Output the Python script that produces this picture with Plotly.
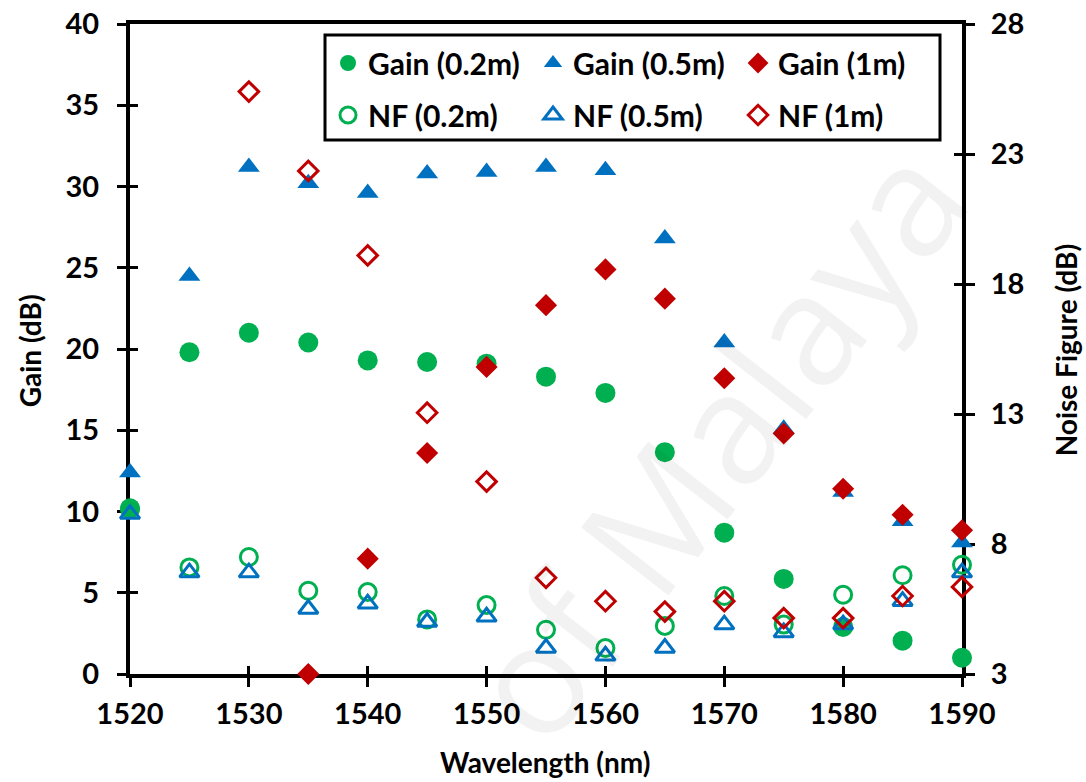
import plotly.graph_objects as go

# Wavelength sweep (nm)
wavelength = [1520, 1525, 1530, 1535, 1540, 1545, 1550, 1555, 1560,
              1565, 1570, 1575, 1580, 1585, 1590]

# Gain (dB) for three fibre lengths
gain_02 = [10.2, 19.8, 21.0, 20.4, 19.3, 19.2, 19.1, 18.3, 17.3,
           13.65, 8.7, 5.85, 2.9, 2.05, 1.0]
gain_05 = [12.4, 24.5, 31.2, 30.2, 29.6, 30.8, 30.9, 31.2, 31.0,
           26.8, 20.4, 15.1, 11.2, 9.4, 8.1]
gain_1 = [None, None, None, 0.0, 7.1, 13.6, 18.9, 22.7, 24.9,
          23.1, 18.2, 14.8, 11.4, 9.8, 8.85]

# Noise figure (dB) for three fibre lengths
nf_02 = [9.35, 7.1, 7.5, 6.2, 6.15, 5.1, 5.65, 4.7, 4.0,
         4.85, 6.0, 4.9, 6.05, 6.8, 7.2]
nf_05 = [9.15, 6.9, 6.9, 5.5, 5.7, 5.0, 5.2, 4.0, 3.7,
         4.0, 4.9, 4.6, 4.9, 5.8, 6.9]
nf_1 = [None, None, 25.4, 22.35, 19.1, 13.05, 10.4, 6.7, 5.8,
        5.4, 5.8, 5.15, 5.15, 6.0, 6.35]

x_ticks = [1520, 1530, 1540, 1550, 1560, 1570, 1580, 1590]
gain_ticks = [0, 5, 10, 15, 20, 25, 30, 35, 40]
nf_ticks = [3, 8, 13, 18, 23, 28]

GREEN = "#00B050"
BLUE = "#0070C0"
RED = "#C00000"
FONT = "Lato"

fig = go.Figure()


def add_series(y, name, color, symbol, filled, axis, legend, size):
    marker = dict(symbol=symbol, size=size, color=color,
                  line=dict(color=color, width=0))
    if not filled:
        marker = dict(symbol=symbol + "-open", size=size - 2, color=color,
                      line=dict(color=color, width=3))
    fig.add_trace(go.Scatter(
        x=wavelength, y=y, name=name, mode="markers", marker=marker,
        yaxis=axis, legend=legend, cliponaxis=False))


add_series(gain_02, "Gain (0.2m)", GREEN, "circle", True, "y", "legend", 20)
add_series(gain_05, "Gain (0.5m)", BLUE, "triangle-up", True, "y", "legend", 19)
add_series(gain_1, "Gain (1m)", RED, "diamond", True, "y", "legend", 17)
add_series(nf_02, "NF (0.2m)", GREEN, "circle", False, "y2", "legend2", 19)
add_series(nf_05, "NF (0.5m)", BLUE, "triangle-up", False, "y2", "legend2", 19)
add_series(nf_1, "NF (1m)", RED, "diamond", False, "y2", "legend2", 17)

# invisible carriers for the inner half of the crossing tick marks
for xa, ya in (("x3", "y"), ("x", "y3"), ("x", "y4")):
    fig.add_trace(go.Scatter(x=[None], y=[None], xaxis=xa, yaxis=ya,
                             showlegend=False, hoverinfo="skip"))

tick_font = dict(family=FONT, size=29, color="black", weight="bold")
title_font = dict(family=FONT, size=28, color="black", weight="bold")
legend_font = dict(family=FONT, size=30, color="black", weight="bold")

common = dict(showgrid=False, zeroline=False, automargin=False,
              tickwidth=3, tickcolor="black", layer="below traces")

fig.update_layout(
    width=1086, height=782,
    margin=dict(l=130, r=124, t=24, b=108),
    paper_bgcolor="white", plot_bgcolor="white",
    xaxis=dict(
        range=[1520, 1590], tickvals=x_ticks, ticks="outside", ticklen=9,
        showline=True, linewidth=4, linecolor="black", mirror=True,
        tickfont=tick_font, ticklabelstandoff=2, **common),
    xaxis3=dict(
        range=[1520, 1590], tickvals=x_ticks, ticks="inside", ticklen=8,
        overlaying="x", anchor="y", showticklabels=False, **common),
    yaxis=dict(
        range=[0, 40], tickvals=gain_ticks, ticks="outside", ticklen=9,
        showline=True, linewidth=4, linecolor="black",
        tickfont=tick_font, ticklabelstandoff=12, **common),
    yaxis2=dict(
        range=[3, 28], tickvals=nf_ticks, ticks="outside", ticklen=9,
        showline=True, linewidth=4, linecolor="black", side="right",
        overlaying="y", tickfont=tick_font, ticklabelstandoff=10, **common),
    yaxis3=dict(
        range=[0, 40], tickvals=gain_ticks, ticks="inside", ticklen=8,
        overlaying="y", side="left", showticklabels=False, **common),
    yaxis4=dict(
        range=[3, 28], tickvals=nf_ticks, ticks="inside", ticklen=8,
        overlaying="y", side="right", showticklabels=False, **common),
    legend=dict(
        orientation="h", x=0.238, xanchor="left", y=0.94, yanchor="middle",
        font=legend_font, entrywidth=160, itemwidth=30,
        bgcolor="rgba(0,0,0,0)", borderwidth=0),
    legend2=dict(
        orientation="h", x=0.238, xanchor="left", y=0.86, yanchor="middle",
        font=legend_font, entrywidth=160, itemwidth=30,
        bgcolor="rgba(0,0,0,0)", borderwidth=0),
    showlegend=True,
)

# axis titles
fig.add_annotation(text="Wavelength (nm)", xref="paper", yref="paper",
                   x=0.4988, y=-0.1354, xanchor="center", yanchor="middle",
                   showarrow=False, font=title_font)
fig.add_annotation(text="Gain (dB)", xref="paper", yref="paper",
                   x=-0.1202, y=0.498, xanchor="center", yanchor="middle",
                   textangle=-90, showarrow=False, font=title_font)
fig.add_annotation(text="Noise Figure (dB)", xref="paper", yref="paper",
                   x=1.125, y=0.498, xanchor="center", yanchor="middle",
                   textangle=-90, showarrow=False, font=title_font)

# legend frame
fig.add_shape(type="rect", xref="paper", yref="paper",
              x0=(325 - 130) / 832, x1=(940 - 130) / 832,
              y0=(674 - 140) / 650, y1=(674 - 35) / 650,
              line=dict(color="black", width=3), fillcolor="rgba(0,0,0,0)",
              layer="below")

# faint diagonal watermark
fig.add_annotation(text="of Malaya", xref="paper", yref="paper",
                   x=0.70, y=0.36, xanchor="center", yanchor="middle",
                   showarrow=False, textangle=-52,
                   font=dict(family="Open Sans", size=155,
                             color="rgba(0,0,0,0.05)"))

fig.write_html("out.html")
